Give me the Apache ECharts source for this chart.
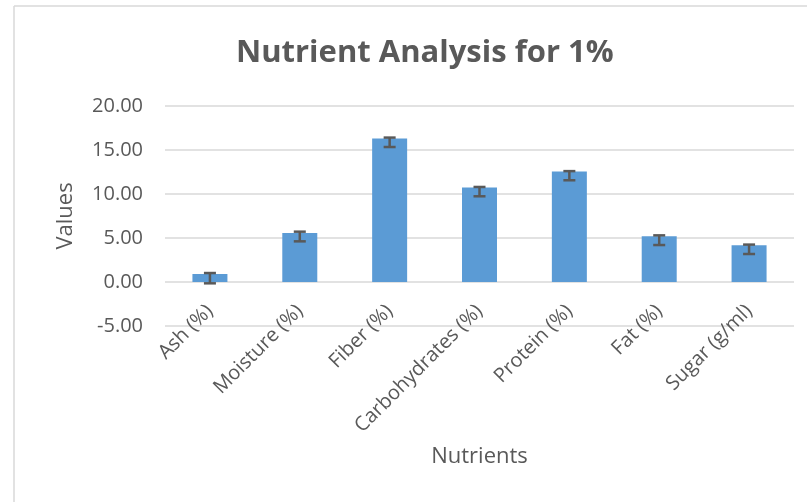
<!DOCTYPE html>
<html>
<head>
<meta charset="utf-8">
<script src="https://cdn.jsdelivr.net/npm/echarts@6/dist/echarts.min.js"></script>
<style>
html, body { margin: 0; padding: 0; background: #fff; }
#chart { width: 807px; height: 502px; }
</style>
</head>
<body>
<div id="chart"></div>
<script>
var categories = ['Ash (%)', 'Moisture (%)', 'Fiber (%)', 'Carbohydrates (%)', 'Protein (%)', 'Fat (%)', 'Sugar (g/ml)'];
var values = [0.91, 5.57, 16.3, 10.73, 12.55, 5.19, 4.17];
var errLow = [-0.15, 4.62, 15.34, 9.74, 11.56, 4.2, 3.18];
var errHigh = [1.02, 5.72, 16.41, 10.8, 12.6, 5.3, 4.25];

window.onload = function() {
	var errData = [];
	for (var i = 0; i < categories.length; i++) {
		errData.push([i, errLow[i], errHigh[i]]);
	}
	var myChart = echarts.init(document.getElementById('chart'));
	var border = { stroke: '#d9d9d9', lineWidth: 1.5 };
	var option = {
		animation: false,
		backgroundColor: '#fff',
		textStyle: { fontFamily: 'Open Sans' },
		graphic: [
			{ type: 'line', shape: { x1: 14, y1: 6, x2: 807, y2: 6 }, style: border, silent: true },
			{ type: 'line', shape: { x1: 14, y1: 6, x2: 14, y2: 502 }, style: border, silent: true }
		],
		title: {
			text: 'Nutrient Analysis for 1%',
			left: 231,
			top: 33,
			textStyle: { fontSize: 31, fontWeight: 'bold', color: '#595959', fontFamily: 'Open Sans' }
		},
		grid: { left: 165, right: 13, top: 106, bottom: 176 },
		xAxis: {
			type: 'category',
			data: categories,
			name: 'Nutrients',
			nameLocation: 'middle',
			nameGap: 120,
			nameTextStyle: { fontSize: 22, color: '#595959' },
			axisLine: { onZero: false, show: false },
			axisTick: { show: false },
			axisLabel: { rotate: 45, fontSize: 20, color: '#595959', margin: -18, interval: 0 }
		},
		yAxis: {
			type: 'value',
			min: -5,
			max: 20,
			interval: 5,
			name: 'Values',
			nameLocation: 'middle',
			nameGap: 88,
			nameTextStyle: { fontSize: 22, color: '#595959' },
			axisLabel: {
				fontSize: 20, color: '#595959', margin: 22,
				formatter: function(v) { return v.toFixed(2); }
			},
			splitLine: { lineStyle: { color: '#d9d9d9', width: 1.5 } }
		},
		series: [{
			type: 'bar',
			data: values,
			barWidth: 35,
			itemStyle: { color: '#5b9bd5' }
		}, {
			type: 'custom',
			data: errData,
			z: 10,
			renderItem: function(params, api) {
				var lo = api.coord([api.value(0), api.value(1)]);
				var hi = api.coord([api.value(0), api.value(2)]);
				var hw = 6;
				var st = { stroke: '#595959', lineWidth: 2.5 };
				return {
					type: 'group',
					children: [
						{ type: 'line', shape: { x1: lo[0], y1: lo[1], x2: hi[0], y2: hi[1] }, style: st },
						{ type: 'line', shape: { x1: lo[0] - hw, y1: lo[1], x2: lo[0] + hw, y2: lo[1] }, style: st },
						{ type: 'line', shape: { x1: hi[0] - hw, y1: hi[1], x2: hi[0] + hw, y2: hi[1] }, style: st }
					]
				};
			}
		}]
	};
	myChart.setOption(option);
};
</script>
</body>
</html>
